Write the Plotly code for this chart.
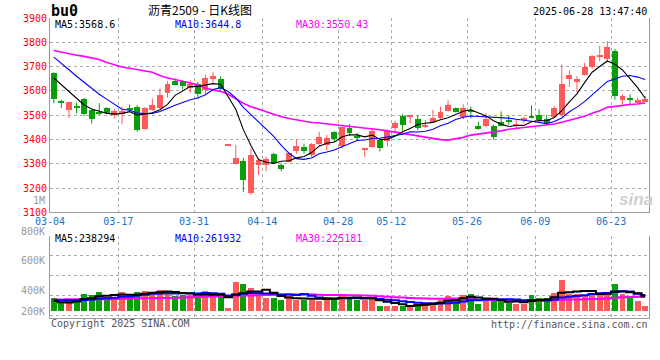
import plotly.graph_objects as go
import pandas as pd

# ---------------- data ----------------
holidays = ["2025-04-04", "2025-05-01", "2025-05-02", "2025-05-05", "2025-06-02"]
dates = [d.strftime("%Y-%m-%d") for d in pd.bdate_range("2025-03-04", "2025-06-27")
         if d.strftime("%Y-%m-%d") not in holidays]

opens = [3674, 3558, 3522, 3537, 3565, 3522, 3513, 3531, 3500, 3504,
         3531, 3535, 3443, 3522, 3530, 3590, 3641, 3640, 3613, 3630,
         3603, 3647, 3647, 3376, 3298, 3311, 3178, 3294, 3294, 3341,
         3294, 3307, 3351, 3370, 3335, 3382, 3379, 3430, 3375, 3447,
         3410, 3359, 3369, 3396, 3392, 3447, 3495, 3495, 3484, 3450,
         3473, 3488, 3518, 3531, 3493, 3522, 3457, 3454, 3454, 3470,
         3481, 3457, 3484, 3497, 3500, 3484, 3493, 3500, 3647, 3636,
         3667, 3698, 3739, 3732, 3765, 3563, 3568, 3552, 3558]
highs = [3676, 3563, 3555, 3552, 3572, 3525, 3549, 3533, 3525, 3535,
         3544, 3541, 3533, 3569, 3610, 3640, 3651, 3644, 3643, 3637,
         3667, 3677, 3660, 3378, 3378, 3325, 3362, 3325, 3328, 3345,
         3301, 3345, 3400, 3382, 3385, 3432, 3419, 3434, 3457, 3463,
         3427, 3366, 3446, 3400, 3439, 3477, 3504, 3500, 3500, 3480,
         3522, 3535, 3561, 3531, 3545, 3535, 3473, 3508, 3461, 3515,
         3500, 3481, 3493, 3541, 3524, 3500, 3538, 3708, 3685, 3660,
         3715, 3748, 3786, 3805, 3773, 3586, 3586, 3572, 3579]
lows = [3549, 3529, 3489, 3508, 3497, 3465, 3500, 3505, 3487, 3464,
        3518, 3432, 3440, 3518, 3525, 3572, 3622, 3606, 3592, 3568,
        3586, 3633, 3600, 3376, 3296, 3183, 3172, 3253, 3269, 3298,
        3269, 3305, 3341, 3341, 3328, 3375, 3355, 3389, 3362, 3416,
        3396, 3328, 3366, 3351, 3371, 3430, 3436, 3466, 3439, 3446,
        3473, 3484, 3514, 3511, 3484, 3487, 3440, 3450, 3400, 3454,
        3461, 3447, 3466, 3487, 3476, 3461, 3491, 3495, 3617, 3592,
        3663, 3690, 3721, 3717, 3563, 3538, 3545, 3549, 3556]
closes = [3565, 3554, 3553, 3533, 3504, 3484, 3508, 3508, 3518, 3518,
          3520, 3440, 3529, 3541, 3582, 3630, 3626, 3620, 3630, 3586,
          3653, 3660, 3606, 3378, 3325, 3233, 3335, 3317, 3321, 3301,
          3278, 3345, 3375, 3351, 3382, 3409, 3406, 3400, 3453, 3427,
          3407, 3366, 3436, 3364, 3434, 3468, 3459, 3500, 3447, 3459,
          3487, 3511, 3541, 3514, 3529, 3515, 3443, 3484, 3412, 3457,
          3470, 3463, 3487, 3489, 3481, 3466, 3529, 3630, 3667, 3647,
          3697, 3742, 3748, 3782, 3579, 3579, 3563, 3563, 3565]
volumes = [208000, 148000, 175000, 165000, 274000, 258000, 307000, 230000, 230000, 307000,
           230000, 307000, 324000, 307000, 340000, 307000, 252000, 258000, 258000, 241000,
           324000, 241000, 241000, 49000, 472000, 439000, 373000, 241000, 208000, 208000,
           175000, 252000, 186000, 186000, 186000, 165000, 230000, 208000, 258000, 208000,
           186000, 186000, 208000, 77000, 77000, 77000, 88000, 77000, 121000, 132000,
           143000, 186000, 241000, 186000, 258000, 285000, 110000, 165000, 165000, 165000,
           132000, 121000, 121000, 258000, 219000, 208000, 296000, 505000, 285000, 285000,
           258000, 296000, 258000, 307000, 439000, 285000, 230000, 165000, 77000]

# moving-average values before enough history is visible
ma5_head = [3653, 3625, 3600, 3572]
ma10_head = [3739, 3714, 3687, 3660, 3636, 3609, 3586, 3565, 3545]
ma30_head = [3766, 3759, 3753, 3747, 3742, 3736, 3729, 3717, 3706, 3698,
             3693, 3687, 3682, 3677, 3663, 3653, 3647, 3640, 3633, 3625,
             3611, 3603, 3598, 3586, 3568, 3549, 3535, 3525, 3514]
vma5_head = [160000, 140000, 135000, 150000]
vma10_head = [172000, 170000, 170000, 172000, 178000, 185000, 195000, 205000, 215000]
vma30_head = [186000, 186000, 187000, 187000, 188000, 188000, 189000, 190000, 192000, 196000,
              199000, 202000, 204000, 206000, 208000, 210000, 214000, 218000, 222000, 226000,
              230000, 234000, 238000, 240000, 244000, 248000, 252000, 255000, 257000]

tick_dates = ["2025-03-04", "2025-03-17", "2025-03-31", "2025-04-14", "2025-04-28",
              "2025-05-12", "2025-05-26", "2025-06-09", "2025-06-23"]
tick_labels = ["03-04", "03-17", "03-31", "04-14", "04-28", "05-12", "05-26", "06-09", "06-23"]
price_ticks = [3100, 3200, 3300, 3400, 3500, 3600, 3700, 3800, 3900]
vol_tick_labels = ["800K", "600K", "400K", "200K"]
price_ma_labels = ["MA5:3568.6", "MA10:3644.8", "MA30:3550.43"]
vol_ma_labels = ["MA5:238294", "MA10:261932", "MA30:225181"]
title_code = "bu0"
title_text = "沥青2509 - 日K线图"
time_text = "2025-06-28 13:47:40"
copyright_text = "Copyright 2025 SINA.COM"
url_text = "http://finance.sina.com.cn"

# ---------------- helpers ----------------
UP = "#ff5a5a"
DOWN = "#0a9e0a"
MONO = "DejaVu Sans Mono"
L, R, H = 50, 649, 360


def px(x):
    return (x - L) / (R - L)


def py(y):
    return 1 - y / H


def moving(values, n, head):
    s = pd.Series(values, dtype=float).rolling(n).mean().tolist()
    return list(head) + s[len(head):]


n = len(closes)
idx = list(range(n))
is_up = [c >= o for o, c in zip(opens, closes)]
colors = [UP if u else DOWN for u in is_up]

ma5 = moving(closes, 5, ma5_head)
ma10 = moving(closes, 10, ma10_head)
ma30 = moving(closes, 30, ma30_head)
vma5 = moving(volumes, 5, vma5_head)
vma10 = moving(volumes, 10, vma10_head)
vma30 = moving(volumes, 30, vma30_head)

fig = go.Figure()

# wicks
for flag, col in ((True, UP), (False, DOWN)):
    wx, wy = [], []
    for i in idx:
        if is_up[i] == flag:
            wx += [i, i, None]
            wy += [lows[i], highs[i], None]
    fig.add_trace(go.Scatter(x=wx, y=wy, mode="lines", line=dict(color=col, width=1),
                             xaxis="x", yaxis="y", hoverinfo="skip"))

# bodies
body_base = [min(o, c) for o, c in zip(opens, closes)]
body_h = [max(abs(c - o), 4) for o, c in zip(opens, closes)]
fig.add_trace(go.Bar(x=idx, y=body_h, base=body_base, width=0.78,
                     marker=dict(color=colors, line=dict(width=0)),
                     xaxis="x", yaxis="y"))

# price MAs
fig.add_trace(go.Scatter(x=idx, y=ma30, mode="lines", line=dict(color="#ff00ff", width=1.6),
                         xaxis="x", yaxis="y"))
fig.add_trace(go.Scatter(x=idx, y=ma10, mode="lines", line=dict(color="#0000ff", width=1.1),
                         xaxis="x", yaxis="y"))
fig.add_trace(go.Scatter(x=idx, y=ma5, mode="lines", line=dict(color="#000000", width=1.1),
                         xaxis="x", yaxis="y"))

# volume
fig.add_trace(go.Bar(x=idx, y=volumes, width=0.78,
                     marker=dict(color=colors, line=dict(width=0)),
                     xaxis="x2", yaxis="y2"))
for vals, col in ((vma30, "#ff00ff"), (vma10, "#0000ff"), (vma5, "#000000")):
    fig.add_trace(go.Scatter(x=idx, y=vals, mode="lines", line=dict(color=col, width=2, shape="hvh"),
                             xaxis="x2", yaxis="y2"))

tickvals = [dates.index(d) - 0.5 for d in tick_dates]

grid = dict(showgrid=True, gridcolor="#aaaaaa", griddash="dot", gridwidth=1, zeroline=False)
axis_line = dict(showline=True, linecolor="#9a9a9a", linewidth=1)

zero_px = 310.7
per_px = 16450
vol_range = [-(317.5 - zero_px) * per_px, (zero_px - 235.7) * per_px]

annotations = []


def text(t, x, y, color="#000", size=10, anchor="left", family=MONO):
    annotations.append(dict(text=t, x=px(x), y=py(y), xref="paper", yref="paper",
                            xanchor=anchor, yanchor="middle", showarrow=False,
                            font=dict(family=family, size=size, color=color)))


text("<b>" + title_code + "</b>", 49, 11, size=15)
text(title_text, 200, 9, size=12, anchor="center", family="Noto Sans CJK SC")
text(time_text, 649, 11, anchor="right")
for lab, x, col in zip(price_ma_labels, (53, 173, 294), ("#000000", "#0000ff", "#ff00ff")):
    text(lab, x, 24.5, color=col)
for lab, x, col in zip(vol_ma_labels, (53, 173, 294), ("#000000", "#0000ff", "#ff00ff")):
    text(lab, x, 238.5, color=col)
for lab, y in zip(vol_tick_labels, (231, 260.7, 290.7, 311)):
    text(lab, 47, y, color="#999999", anchor="right")
text("1M", 47, 200.7, color="#999999", anchor="right")
text(copyright_text, 49, 323.5, color="#555555")
text(url_text, 650, 324, color="#555555", anchor="right")
text("<b><i>sina</i></b>", 636, 199, color="#cfcfcf", size=17, anchor="center", family="Arial")

fig.update_layout(
    width=660, height=360,
    margin=dict(l=L, r=660 - R, t=0, b=0, autoexpand=False),
    paper_bgcolor="white", plot_bgcolor="white",
    showlegend=False, bargap=0,
    xaxis=dict(domain=[0, 1], anchor="y", range=[-0.5, n - 0.5], tickmode="array",
               tickvals=tickvals, ticktext=tick_labels, ticks="",
               tickfont=dict(family=MONO, size=10, color="#1a73c8"), **grid, **axis_line),
    yaxis=dict(domain=[py(212.3), py(18)], anchor="x", range=[3100, 3900],
               tickmode="array", tickvals=price_ticks, ticks="",
               tickfont=dict(family=MONO, size=10, color="#ff0000"),
               mirror=True, **grid, **axis_line),
    xaxis2=dict(domain=[0, 1], anchor="y2", matches="x", range=[-0.5, n - 0.5], tickmode="array",
                tickvals=tickvals, showticklabels=False, ticks="", **grid, **axis_line),
    yaxis2=dict(domain=[py(317.5), py(235.7)], anchor="x2", range=vol_range,
                tick0=(zero_px - 295.7) * per_px, dtick=20 * per_px, showticklabels=False,
                ticks="", mirror=True, **grid, **axis_line),
    annotations=annotations,
)

fig.write_html("out.html", config={"displayModeBar": False},
               post_script="document.body.style.margin='0';")
